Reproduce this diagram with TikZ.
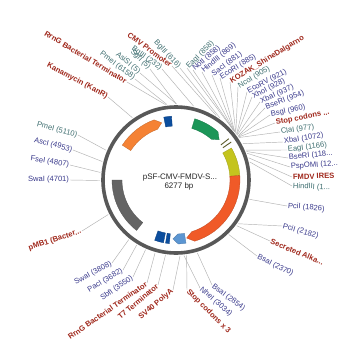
\documentclass[tikz,border=0pt]{standalone}
\usepackage{fontspec}
\setmainfont{Liberation Sans}
\usepackage{tikz}
\definecolor{enzteal}{RGB}{62,110,112}
\definecolor{enznavy}{RGB}{58,58,140}
\definecolor{featred}{RGB}{160,40,28}
\definecolor{ringgray}{RGB}{88,88,88}
\definecolor{kanorange}{RGB}{245,130,52}
\definecolor{darkblue}{RGB}{12,78,158}
\definecolor{cmvgreen}{RGB}{28,150,88}
\definecolor{iresyellow}{RGB}{196,196,30}
\definecolor{sapred}{RGB}{240,90,40}
\definecolor{polyblue}{RGB}{92,150,210}
\definecolor{origray}{RGB}{100,100,100}
\definecolor{markolive}{RGB}{90,90,40}
\tikzstyle{lbl} = [inner sep=0.8pt, font=\fontsize{7.6}{8}\selectfont]
\tikzstyle{enzA} = [lbl, text=enzteal]
\tikzstyle{enzB} = [lbl, text=enznavy]
\tikzstyle{feat} = [lbl, text=featred, font=\fontsize{7.6}{8}\selectfont\bfseries]
\tikzstyle{leader} = [draw=black!30, line width=0.45pt]
\tikzstyle{band} = [line width=0.3pt]
\newcommand{\featbox}[3][]{ %
  % plain feature band from angle #2 to #3
  \filldraw[band,#1] (#2:54pt) arc (#2:#3:54pt) -- (#3:64pt) arc (#3:#2:64pt) -- cycle; %
}
\newcommand{\featarrow}[4][]{ %
  % feature band from #2 to #3, pointed up to #4
  \filldraw[band,#1] (#2:54pt) arc (#2:#3:54pt) -- (#4:59pt) -- (#3:64pt) arc (#3:#2:64pt) -- cycle; %
}
\newcommand{\site}[6][]{ %
  % ring point at base pair #3, label #6 anchored (#5) at #4
  \pgfmathsetmacro{\siteang}{90-(#3/6277)*360} %
  \coordinate (#2-s) at (\siteang:76pt); %
  \node[#1, anchor=#5] (#2) at (#4) {#6}; %
  \draw[leader] (#2-s) -- (#2.#5); %
}

\begin{document}
\begin{tikzpicture}[x=1pt,y=1pt]
  \fill[white] (-176,-180) rectangle (184,180);
  \useasboundingbox (-176,-180) rectangle (184,180);

  % labels and leaders
  \site[feat, rotate=-31]{rrnA}{6140}{-49,98}{east}{RrnG Bacterial Terminator}
  \site[feat, rotate=-28]{kan}{5667}{-68,83}{east}{Kanamycin (KanR)}
  \site[enzA, rotate=-37]{pmeA}{6158}{-41,101}{east}{PmeI (6158)}
  \site[enzA, rotate=-40]{asi}{5}{-36,107}{east}{AsiSI (5)}
  \site[enzA, rotate=-45]{sgf}{5}{-26,111}{east}{SgfI (5)}
  \site[enzA, rotate=-35]{bglA}{232}{-14,111}{east}{BglII (232)}
  \site[feat, rotate=-36]{cmv}{558}{-4,114}{east}{CMV Promoter}
  \site[enzA, rotate=-47]{bglB}{616}{4,112}{east}{BglII (616)}

  \site[enzA, rotate=45]{eagA}{858}{11,112}{west}{EagI (858)}
  \site[enzB, rotate=41]{not}{858}{17,110}{west}{NotI (858)}
  \site[enzB, rotate=40]{hinA}{869}{26,108}{west}{HindIII (869)}
  \site[enzB, rotate=36]{sac}{881}{36,105}{west}{SacI (881)}
  \site[enzB, rotate=32]{ecoA}{885}{44,102}{west}{EcoRI (885)}
  \site[feat, rotate=31]{kozak}{907}{54,98}{west}{KOZAK\_ShineDalgarno}
  \site[enzA, rotate=31]{nco}{905}{62,93}{west}{NcoI (905)}
  \site[enzB, rotate=28]{ecoB}{921}{71,88}{west}{EcoRV (921)}
  \site[enzB, rotate=27]{xho}{928}{76,83}{west}{XhoI (928)}
  \site[enzB, rotate=24]{xbaA}{937}{84,78}{west}{XbaI (937)}
  \site[enzB, rotate=21]{bseA}{954}{89,72}{west}{BseRI (954)}
  \site[enzB, rotate=12]{bsg}{960}{94,65}{west}{BsgI (960)}
  \site[feat, rotate=11]{stopA}{968}{99,57}{west}{Stop codons ...}
  \site[enzA, rotate=8]{cla}{977}{104,48}{west}{ClaI (977)}
  \site[enzB, rotate=9]{xbaB}{1072}{107,38}{west}{XbaI (1072)}
  \site[enzA, rotate=7]{eagB}{1166}{111,30}{west}{EagI (1166)}
  \site[enzB, rotate=6]{bseB}{1185}{112,22}{west}{BseRI (118...}
  \site[enzB, rotate=4]{psp}{1210}{114,13}{west}{PspOMI (12...}
  \site[feat, rotate=2]{ires}{1273}{116,3}{west}{FMDV IRES}
  \site[enzA, rotate=-3]{hinB}{1330}{116,-6}{west}{HindIII (1...}
  \site[enzB, rotate=-5]{pciA}{1826}{111,-26}{west}{PciI (1826)}
  \site[enzB, rotate=-16]{pciB}{2182}{106,-46}{west}{PciI (2182)}
  \site[feat, rotate=-22]{sap}{2214}{94,-61}{west}{Secreted Alka...}
  \site[enzB, rotate=-27]{bsaA}{2370}{81,-76}{west}{BsaI (2370)}
  \site[enzB, rotate=-37]{bsaB}{2854}{36,-105}{west}{BsaI (2854)}
  \site[enzB, rotate=-41]{nhe}{3034}{24,-108}{west}{NheI (3034)}
  \site[feat, rotate=-45]{stopB}{2999}{11,-110}{west}{Stop codons x 3}

  \site[feat, rotate=40]{sv}{3086}{-3,-110}{east}{SV40 PolyA}
  \site[feat, rotate=40]{tseven}{3278}{-18,-105}{east}{T7 Terminator}
  \site[feat, rotate=35]{rrnB}{3418}{-29,-103}{east}{RrnG Bacterial Terminator}
  \site[enzB, rotate=35]{sbf}{3550}{-43,-97}{east}{SbfI (3550)}
  \site[enzB, rotate=31]{pac}{3682}{-53,-90}{east}{PacI (3682)}
  \site[enzB, rotate=28]{swaA}{3808}{-64,-83}{east}{SwaI (3808)}
  \site[feat, rotate=18]{ori}{4237}{-94,-51}{east}{pMB1 (Bacter...}
  \site[enzB, rotate=0]{swaB}{4701}{-106,0}{east}{SwaI (4701)}
  \site[enzB, rotate=-9]{fse}{4807}{-106,15}{east}{FseI (4807)}
  \site[enzB, rotate=-14]{asc}{4953}{-103,30}{east}{AscI (4953)}
  \site[enzA, rotate=-14]{pmeB}{5110}{-98,45}{east}{PmeI (5110)}

  % backbone
  \draw[ringgray, line width=3.6pt] (0,0) circle (73pt);

  % features
  \featarrow[fill=kanorange, draw=kanorange!80!black]{147}{110}{104}
  \featbox[fill=darkblue, draw=darkblue!80!black]{101}{94}
  \featarrow[fill=cmvgreen, draw=cmvgreen!80!black]{73}{49}{43}
  \draw[markolive, line width=0.9pt] (38:57pt) -- (38:67pt);
  \draw[markolive, line width=0.9pt] (34.5:57pt) -- (34.5:67pt);
  \featbox[fill=iresyellow, draw=iresyellow!80!black]{30}{4}
  \featarrow[fill=sapred, draw=sapred!80!black]{4}{-73}{-79.6}
  \featarrow[fill=polyblue, draw=polyblue!80!black]{-81}{-88}{-93}
  \featbox[fill=darkblue, draw=darkblue!80!black]{-96}{-99.4}
  \featbox[fill=darkblue, draw=darkblue!80!black]{-101.3}{-109.5}
  \featbox[fill=origray, draw=origray!80!black]{180}{232}

  \node[font=\fontsize{8}{9}\selectfont, text=black!85] (pname) at (4,2) {pSF-CMV-FMDV-S...};
  \node[font=\fontsize{8}{9}\selectfont, text=black!85] (plen) at (3,-6) {6277 bp};
\end{tikzpicture}
\end{document}
